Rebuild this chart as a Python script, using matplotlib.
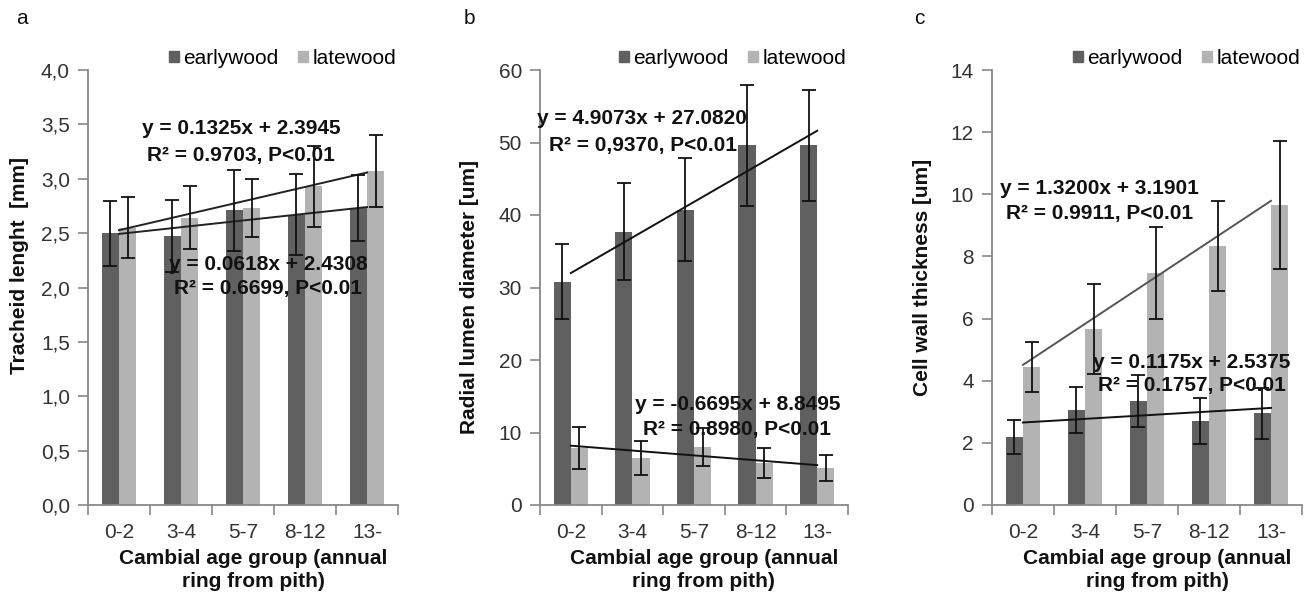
import matplotlib
matplotlib.use("Agg")
import matplotlib.pyplot as plt
from matplotlib.patches import Patch
from matplotlib.ticker import FuncFormatter
import numpy as np

plt.rcParams['font.family'] = ['Liberation Sans', 'DejaVu Sans']

groups = ['0-2', '3-4', '5-7', '8-12', '13-']

# panel a: tracheid length [mm]
a_early = [2.50, 2.47, 2.71, 2.67, 2.73]
a_early_err = [0.30, 0.33, 0.37, 0.37, 0.30]
a_late = [2.55, 2.64, 2.73, 2.93, 3.07]
a_late_err = [0.28, 0.29, 0.27, 0.37, 0.33]

# panel b: radial lumen diameter [um]
b_early = [30.8, 37.7, 40.7, 49.6, 49.6]
b_early_err = [5.2, 6.7, 7.1, 8.3, 7.7]
b_late = [7.9, 6.5, 8.0, 5.8, 5.1]
b_late_err = [2.9, 2.3, 2.6, 2.1, 1.8]

# panel c: cell wall thickness [um]
c_early = [2.19, 3.06, 3.35, 2.70, 2.96]
c_early_err = [0.55, 0.74, 0.85, 0.74, 0.82]
c_late = [4.44, 5.66, 7.47, 8.34, 9.66]
c_late_err = [0.80, 1.45, 1.47, 1.45, 2.07]

# trend lines (slope, intercept) as printed on the chart
a_fit_late = (0.1325, 2.3945)
a_fit_early = (0.0618, 2.4308)
b_fit_early = (4.9073, 27.0820)
b_fit_late = (-0.6695, 8.8495)
c_fit_late = (1.3200, 3.1901)
c_fit_early = (0.1175, 2.5375)

EARLY = '#606060'
LATE = '#b3b3b3'
AXC = '#888888'
TXT = '#333333'

W, H = 1304, 595
fig = plt.figure(figsize=(W / 100, H / 100), dpi=100)


def px_axes(left, right, top, bottom):
    return fig.add_axes([left / W, 1 - bottom / H, (right - left) / W, (bottom - top) / H])


def draw_panel(ax, early, early_err, late, late_err, ymax, ystep, fmt):
    x = np.arange(len(groups))
    w = 0.28
    ax.bar(x - w / 2, early, w, color=EARLY, zorder=2)
    ax.bar(x + w / 2, late, w, color=LATE, zorder=2)
    ax.errorbar(x - w / 2, early, yerr=early_err, fmt='none', ecolor='#111111',
                elinewidth=1.3, capsize=5, capthick=1.3, zorder=4)
    ax.errorbar(x + w / 2, late, yerr=late_err, fmt='none', ecolor='#111111',
                elinewidth=1.3, capsize=5, capthick=1.3, zorder=4)
    ax.set_xlim(-0.5, len(groups) - 0.5)
    ax.set_ylim(0, ymax)
    ax.set_yticks(np.arange(0, ymax + ystep / 2, ystep))
    ax.yaxis.set_major_formatter(FuncFormatter(fmt))
    ax.set_xticks(x)
    ax.set_xticklabels(groups)
    ax.set_xticks(np.arange(-0.5, len(groups)), minor=True)
    ax.tick_params(axis='x', which='major', length=0, pad=13, labelsize=15, labelcolor=TXT)
    ax.tick_params(axis='x', which='minor', length=7, color=AXC, width=1.2)
    ax.tick_params(axis='y', length=7, color=AXC, width=1.2, labelsize=15, labelcolor=TXT, pad=6)
    for s in ['top', 'right']:
        ax.spines[s].set_visible(False)
    for s in ['left', 'bottom']:
        ax.spines[s].set_color(AXC)
        ax.spines[s].set_linewidth(1.3)
    handles = [Patch(color=EARLY, label='earlywood'), Patch(color=LATE, label='latewood')]
    ax.legend(handles=handles, loc='lower right', bbox_to_anchor=(1.0, 1.0), ncol=2,
              frameon=False, fontsize=15, handlelength=0.5, handleheight=0.5,
              handletextpad=0.2, columnspacing=0.9, borderaxespad=0.0, borderpad=0.1)
    ax.set_xlabel('Cambial age group (annual\nring from pith)', fontsize=15,
                  fontweight='bold', color='#111111', linespacing=1.3)
    ax.xaxis.set_label_coords(0.5 + 10 / 310, -0.1)
    ax.xaxis.label.set_va('top')


def trend(ax, fit, color, lw=1.4):
    xs = np.arange(len(groups))
    m, b = fit
    ax.plot([xs[0], xs[-1]], [m * (xs[0] + 1) + b, m * (xs[-1] + 1) + b],
            color=color, lw=lw, zorder=3)


def label(px, py, s):
    fig.text(px / W, 1 - py / H, s, ha='center', va='center', fontsize=15,
             fontweight='bold', color='#111111', zorder=10)


def eq(px, py, fit):
    m, b = fit
    label(px, py, f'y = {m:.4f}x + {b:.4f}')


comma1 = lambda v, p: f'{v:.1f}'.replace('.', ',')
plain = lambda v, p: f'{v:.0f}'

# ---- a
ax_a = px_axes(88, 398, 70, 505)
draw_panel(ax_a, a_early, a_early_err, a_late, a_late_err, 4.0, 0.5, comma1)
trend(ax_a, a_fit_late, '#222222')
trend(ax_a, a_fit_early, '#222222')
eq(241, 129, a_fit_late)
label(241, 155, 'R² = 0.9703, P<0.01')
eq(268, 265, a_fit_early)
label(268, 288, 'R² = 0.6699, P<0.01')
fig.text(20 / W, 1 - 266 / H, 'Tracheid lenght  [mm]', rotation=90, ha='center', va='center',
         fontsize=15, fontweight='bold', color='#111111')
fig.text(22 / W, 1 - 18 / H, 'a', ha='center', va='center', fontsize=15, color='#111111')

# ---- b
ax_b = px_axes(540, 848, 70, 505)
draw_panel(ax_b, b_early, b_early_err, b_late, b_late_err, 60, 10, plain)
trend(ax_b, b_fit_early, '#111111')
trend(ax_b, b_fit_late, '#111111')
eq(642, 118, b_fit_early)
label(643, 145, 'R² = 0,9370, P<0.01')
label(738, 404, 'y = -0.6695x + 8.8495')
label(737, 429, 'R² = 0.8980, P<0.01')
fig.text(470 / W, 1 - 297 / H, 'Radial lumen diameter [um]', rotation=90, ha='center', va='center',
         fontsize=15, fontweight='bold', color='#111111')
fig.text(469 / W, 1 - 18 / H, 'b', ha='center', va='center', fontsize=15, color='#111111')

# ---- c
ax_c = px_axes(992, 1302, 70, 505)
draw_panel(ax_c, c_early, c_early_err, c_late, c_late_err, 14, 2, plain)
trend(ax_c, c_fit_late, '#555555')
trend(ax_c, c_fit_early, '#111111')
eq(1099, 189, c_fit_late)
label(1100, 213, 'R² = 0.9911, P<0.01')
eq(1192, 362, c_fit_early)
label(1192, 386, 'R² = 0.1757, P<0.01')
fig.text(922 / W, 1 - 277 / H, 'Cell wall thickness [um]', rotation=90, ha='center', va='center',
         fontsize=15, fontweight='bold', color='#111111')
fig.text(919 / W, 1 - 18 / H, 'c', ha='center', va='center', fontsize=15, color='#111111')

fig.savefig('out.png', dpi=100)
